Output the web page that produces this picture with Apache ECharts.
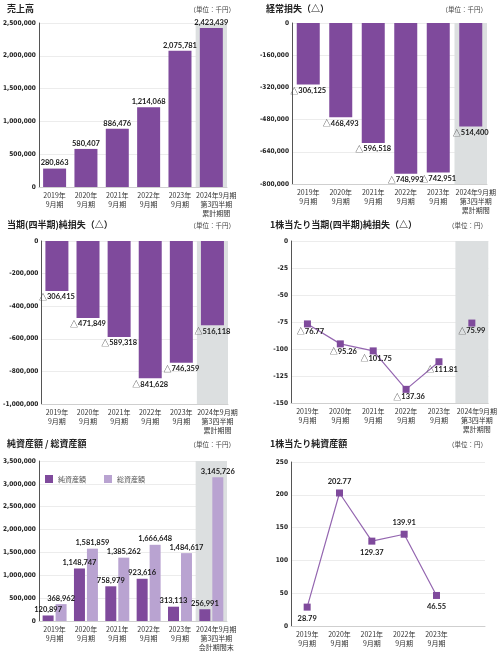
<!DOCTYPE html>
<html><head><meta charset="utf-8">
<script src="https://cdn.jsdelivr.net/npm/echarts@6/dist/echarts.min.js"></script>
<style>html,body{margin:0;padding:0;background:#fff}#c{width:500px;height:652px}</style>
</head><body><div id="c"></div>
<script>
// ---- data ----
const categories = ['2019年\n9月期','2020年\n9月期','2021年\n9月期','2022年\n9月期','2023年\n9月期','2024年9月期\n第3四半期\n累計期間'];
const categoriesAssets = ['2019年\n9月期','2020年\n9月期','2021年\n9月期','2022年\n9月期','2023年\n9月期','2024年9月期\n第3四半期\n会計期間末'];
const categoriesBps = ['2019年\n9月期','2020年\n9月期','2021年\n9月期','2022年\n9月期','2023年\n9月期',''];
const sales = [280863, 580407, 886476, 1214068, 2075781, 2423439];
const ordinaryLoss = [-306125, -468493, -596518, -748993, -742951, -514400];
const netLoss = [-306415, -471849, -589318, -841628, -746359, -516118];
const epsLossHistory = [-76.77, -95.26, -101.75, -137.36, -111.81, null];
const epsLossLatest = [null, null, null, null, null, -75.99];
const netAssets = [120897, 1148747, 758979, 923616, 313113, 256991];
const totalAssets = [368962, 1581859, 1385262, 1666648, 1484617, 3145726];
const bps = [28.79, 202.77, 129.37, 139.91, 46.55];
const bpsLabelSide = ['bottom','top','bottom','top','bottom'];
const axisRanges = [
  {min:0, max:2500000, interval:500000},
  {min:-800000, max:0, interval:160000},
  {min:-1000000, max:0, interval:200000},
  {min:-150, max:0, interval:25},
  {min:0, max:3500000, interval:500000},
  {min:0, max:250, interval:50}
];
const titles = ['売上高','経常損失（△）','当期(四半期)純損失（△）','1株当たり当期(四半期)純損失（△）','純資産額 / 総資産額','1株当たり純資産額'];
const units = ['（単位：千円）','（単位：千円）','（単位：千円）','（単位：円）','（単位：千円）','（単位：円）'];

// ---- styles ----
const JP = '"Noto Sans CJK JP", sans-serif';
const NUM = '"Liberation Sans Narrow", "DejaVu Sans Condensed", sans-serif';
const XL = '"Noto Sans CJK JP", sans-serif';
const VAL = 'Lato, "Noto Sans CJK JP", sans-serif';
const DARK = '#7f4a9c';
const LIGHT = '#b9a3d1';
const GREYBAND = '#dcdfe0';
const fmt = v => echarts.format.addCommas(v);
const rich = {
  t:{fontFamily:JP, fontSize:8, color:'#444'},
  n:{fontFamily:VAL, fontWeight:'bold', fontSize:7.5, color:'#1a1a1a'}
};
const negFmt = p => p.value == null ? '' : '{t|△}{n|' + fmt(-p.value) + '}';
const posLabel = {show:true, position:'top', distance:2, fontFamily:VAL, fontWeight:'bold', fontSize:7.5, color:'#1a1a1a', formatter: p => fmt(p.value)};
const negLabel = {show:true, position:'bottom', distance:2, formatter:negFmt, rich};

const grids = [
  {left:32, top:23, width:195, height:164},
  {left:292, top:23, width:195, height:161},
  {left:34, top:241, width:194, height:163},
  {left:291, top:241, width:198, height:162},
  {left:32, top:461, width:195, height:165},
  {left:291, top:462, width:194, height:164}
];
const catSets = [categories, categories, categories, categories, categoriesAssets, categoriesBps];
const xRich = {
  r:{fontFamily:XL, fontSize:7, color:'#333', lineHeight:9, padding:[0,0,0,10]}
};
const xAxis = catSets.map((cats, i) => ({
  type:'category', gridIndex:i, data:cats,
  axisLine:{show:true, onZero:false, lineStyle:{color:'#cfcfcf'}},
  axisTick:{show:false},
  axisLabel:{interval:0, fontFamily:XL, fontSize:7, color:'#333', lineHeight:9, margin:4,
    formatter:(v, idx) => (idx === 5 && v) ? v.split('\n').map(s => '{r|' + s + '}').join('\n') : v,
    rich:xRich},
  splitArea: i < 5 ? {show:true, interval:0, areaStyle:{color:['rgba(0,0,0,0)','rgba(0,0,0,0)','rgba(0,0,0,0)','rgba(0,0,0,0)','rgba(0,0,0,0)',GREYBAND]}} : {show:false}
}));
const yAxis = axisRanges.map((r, i) => ({
  type:'value', gridIndex:i, min:r.min, max:r.max, interval:r.interval,
  axisLine:{show:true, lineStyle:{color:'#555', width:1}},
  axisTick:{show:false},
  splitLine:{show:true, lineStyle:{color:'#ececec', width:1}},
  axisLabel:{fontFamily:NUM, fontWeight:'bold', fontSize:6.5, color:'#222', margin:3}
}));

const title = [];
const tl = [{l:7,t:4},{l:266,t:4},{l:7,t:220},{l:270,t:220},{l:7,t:439},{l:270,t:439}];
const ur = [{r:265,t:6},{r:13,t:6},{r:265,t:222},{r:13,t:222},{r:265,t:441},{r:13,t:441}];
titles.forEach((t, i) => {
  title.push({text:t, left:tl[i].l, top:tl[i].t, padding:0, textStyle:{fontFamily:JP, fontSize:9, fontWeight:'bold', color:'#222'}});
  title.push({text:units[i], right:ur[i].r, top:ur[i].t, padding:0, textStyle:{fontFamily:JP, fontSize:6.5, fontWeight:'normal', color:'#444'}});
});

const series = [
  {type:'bar', xAxisIndex:0, yAxisIndex:0, data:sales, barWidth:23, itemStyle:{color:DARK}, label:posLabel},
  {type:'bar', xAxisIndex:1, yAxisIndex:1, data:ordinaryLoss, barWidth:23, itemStyle:{color:DARK}, label:negLabel},
  {type:'bar', xAxisIndex:2, yAxisIndex:2, data:netLoss, barWidth:23, itemStyle:{color:DARK}, label:negLabel},
  {type:'line', xAxisIndex:3, yAxisIndex:3, data:epsLossHistory, symbol:'rect', symbolSize:7,
    lineStyle:{color:'#9466b0', width:1.2}, itemStyle:{color:DARK},
    label:{show:true, position:'bottom', distance:0, offset:[3,0], formatter:negFmt, rich}},
  {type:'line', xAxisIndex:3, yAxisIndex:3, data:epsLossLatest, symbol:'rect', symbolSize:7,
    lineStyle:{width:0}, itemStyle:{color:DARK},
    label:{show:true, position:'bottom', distance:0, offset:[0,0], formatter:negFmt, rich}},
  {type:'bar', name:'純資産額', xAxisIndex:4, yAxisIndex:4, data:netAssets, barWidth:11, barGap:'18%', itemStyle:{color:DARK}, label:posLabel},
  {type:'bar', name:'総資産額', xAxisIndex:4, yAxisIndex:4, data:totalAssets, barWidth:11, barGap:'18%', itemStyle:{color:LIGHT}, label:posLabel},
  {type:'line', xAxisIndex:5, yAxisIndex:5, symbol:'rect', symbolSize:7,
    data: bps.map((v, i) => ({value:v, label:{position:bpsLabelSide[i]}})),
    lineStyle:{color:'#9466b0', width:1.2}, itemStyle:{color:DARK},
    label:{show:true, distance:4, fontFamily:VAL, fontWeight:'bold', fontSize:7.5, color:'#1a1a1a', formatter: p => fmt(p.value)}}
];

const chart = echarts.init(document.getElementById('c'), null, {renderer:'canvas'});
chart.setOption({
  animation:false,
  backgroundColor:'#fff',
  title,
  legend:{data:['純資産額','総資産額'], left:40, top:470, icon:'rect', itemWidth:8, itemHeight:8, itemGap:18,
    textStyle:{fontFamily:JP, fontSize:7, color:'#555'}},
  grid:grids, xAxis, yAxis, series
});
</script>
</body></html>
